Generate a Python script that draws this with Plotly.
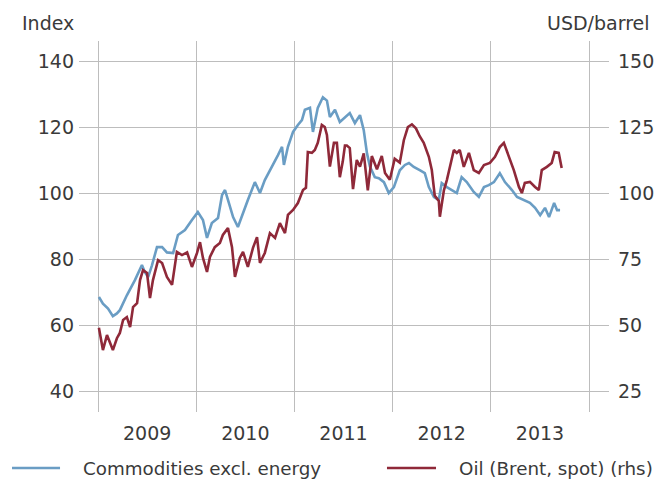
import plotly.graph_objects as go

# Commodities excl. energy (Index, lhs)
comm_dates = ["2009-01-04","2009-01-19","2009-02-07","2009-02-25","2009-03-12","2009-03-23","2009-04-18","2009-05-18",
    "2009-06-13","2009-06-24","2009-07-06","2009-07-20","2009-08-08","2009-08-27","2009-09-14","2009-10-07","2009-10-25",
    "2009-11-20","2009-12-16","2010-01-07","2010-01-26","2010-02-10","2010-02-28","2010-03-23","2010-04-07","2010-04-18",
    "2010-04-29","2010-05-18","2010-06-05","2010-06-20","2010-07-12","2010-08-07","2010-08-26","2010-09-13","2010-10-10",
    "2010-11-01","2010-11-16","2010-11-23","2010-12-08","2010-12-27","2011-01-14","2011-01-29","2011-02-09","2011-02-28",
    "2011-03-11","2011-03-29","2011-04-17","2011-05-02","2011-05-13","2011-06-01","2011-06-19","2011-07-08","2011-07-26",
    "2011-08-14","2011-09-02","2011-09-16","2011-09-28","2011-10-09","2011-10-27","2011-11-11","2011-11-30","2011-12-18",
    "2012-01-06","2012-01-28","2012-02-16","2012-03-02","2012-03-20","2012-04-11","2012-04-30","2012-05-15","2012-06-03",
    "2012-06-21","2012-07-02","2012-07-21","2012-08-08","2012-08-27","2012-09-14","2012-10-03","2012-10-29","2012-11-17",
    "2012-12-06","2012-12-24","2013-01-12","2013-02-03","2013-02-22","2013-03-20","2013-04-08","2013-05-04","2013-05-26",
    "2013-06-14","2013-07-03","2013-07-21","2013-08-05","2013-08-24","2013-09-04","2013-09-15"]
comm_values = [68.5,66.5,65,62.7,63.5,64.5,69,73.6,
    78.2,76,74.5,78,83.6,83.6,82,81.8,87.3,
    88.8,91.8,94.2,91.8,86.4,90.9,92.4,99.4,100.9,
    97.9,92.7,89.7,93.3,97.9,103.3,100,103.9,107.9,
    111.5,114,108.5,114,118.5,120.6,122.1,125.2,125.8,
    118.5,125.8,129,128,123,125.2,121.5,123,124.2,
    121.2,123.6,119,112,108,104.8,104.5,103.3,100,
    101.8,106.9,108.5,109.1,107.9,106.9,106,101.8,98.8,
    97.9,103,101.8,100.9,100,104.8,103.3,100.3,98.8,
    101.8,102.4,103.3,106,103.3,100.9,98.8,97.9,97,
    95.5,93.3,95.5,92.7,97,94.8,94.8]

# Oil (Brent, spot), USD/barrel (rhs)
oil_dates = ["2009-01-04","2009-01-19","2009-02-03","2009-02-14","2009-02-25","2009-03-12","2009-03-23","2009-04-04",
    "2009-04-18","2009-04-30","2009-05-11","2009-05-26","2009-06-06","2009-06-17","2009-07-02","2009-07-13","2009-07-24",
    "2009-08-12","2009-08-27","2009-09-14","2009-10-03","2009-10-21","2009-11-09","2009-11-28","2009-12-16","2010-01-04",
    "2010-01-15","2010-01-26","2010-02-10","2010-02-21","2010-03-11","2010-03-30","2010-04-10","2010-04-29","2010-05-14",
    "2010-05-25","2010-06-12","2010-06-24","2010-07-12","2010-07-31","2010-08-15","2010-08-26","2010-09-13","2010-10-02",
    "2010-10-21","2010-11-08","2010-11-27","2010-12-08","2010-12-27","2011-01-14","2011-02-02","2011-02-13","2011-02-20",
    "2011-03-07","2011-03-18","2011-03-29","2011-04-13","2011-04-24","2011-05-02","2011-05-13","2011-05-28","2011-06-08",
    "2011-06-19","2011-06-30","2011-07-08","2011-07-15","2011-07-26","2011-08-07","2011-08-21","2011-09-02","2011-09-16",
    "2011-10-01","2011-10-16","2011-11-04","2011-11-22","2011-12-04","2011-12-22","2012-01-09","2012-01-28","2012-02-12",
    "2012-02-27","2012-03-13","2012-03-28","2012-04-11","2012-04-26","2012-05-15","2012-05-26","2012-06-06","2012-06-21",
    "2012-06-25","2012-07-10","2012-07-21","2012-08-01","2012-08-16","2012-08-27","2012-09-07","2012-09-22","2012-10-11",
    "2012-10-29","2012-11-17","2012-12-06","2012-12-28","2013-01-16","2013-02-03","2013-02-18","2013-03-09","2013-03-27",
    "2013-04-15","2013-04-26","2013-05-07","2013-05-26","2013-06-14","2013-06-28","2013-07-09","2013-07-28","2013-08-15",
    "2013-08-26","2013-09-10","2013-09-21"]
oil_values = [49,40.5,46.2,43.2,40.5,45,47,51.9,
    53,49.2,56.8,58.3,67,70.8,69.7,60.2,67,
    74.6,73.5,68.2,65.2,77.7,76.5,77.5,72,77.3,
    81.4,75.4,70.1,75.8,79.5,81.1,84.1,86.7,79.5,
    68.2,75.4,77.7,72,79.2,83.3,73.5,77.3,84.8,
    83,88.6,84.8,91.7,93.6,96.2,101.1,102,115.5,
    115.2,116.3,119,125.8,125,122,110,119,119,
    106,112,118,118,117,101.5,112.5,110,115,
    101,114,109,114,107.6,105,113,111.5,120,
    125,126,124.5,121.5,119,113.7,108.7,99,97,
    91,101,104.9,109.9,116.3,115.2,116.3,109.9,115.2,
    108.7,107.6,110.6,111.4,113.7,117.4,119,113.7,108.7,
    102.3,100,103.8,104.2,102.3,101.1,108.7,109.9,111.4,
    115.5,115.2,109.5]

left_ticks = [40, 60, 80, 100, 120, 140]
right_ticks = [25, 50, 75, 100, 125, 150]

BLUE = "#6a9dc4"
RED = "#8f2939"
TXT = "#3a3a3a"
GRID = "#bdbdbd"
FONT = "DejaVu Sans"
FS = 19
FS_LEG = 18.3

fig = go.Figure()
fig.add_trace(go.Scatter(x=comm_dates, y=comm_values, mode="lines", name="Commodities excl. energy",
                         line=dict(color=BLUE, width=2.6), yaxis="y"))
fig.add_trace(go.Scatter(x=oil_dates, y=oil_values, mode="lines", name="Oil (Brent, spot) (rhs)",
                         line=dict(color=RED, width=2.6), yaxis="y2"))

fig.update_layout(
    width=657, height=479,
    margin=dict(l=79, r=48, t=41, b=67),
    paper_bgcolor="white", plot_bgcolor="white",
    showlegend=False,
    font=dict(family=FONT, size=FS, color=TXT),
    xaxis=dict(type="date", range=["2008-10-22", "2014-03-16"], tick0="2009-01-01", dtick="M12",
               ticklabelmode="period", tickformat="%Y",
               showgrid=True, gridcolor=GRID, gridwidth=1.3, zeroline=False, showline=False,
               ticks="", ticklabelstandoff=8, automargin=False),
    yaxis=dict(range=[33.64, 146.06], tickvals=left_ticks, showgrid=True, gridcolor=GRID, gridwidth=1.3,
               zeroline=False, showline=False, ticks="", ticklabelstandoff=4, automargin=False),
    yaxis2=dict(range=[17.05, 157.58], tickvals=right_ticks, overlaying="y", side="right",
                showgrid=False, zeroline=False, showline=False, ticks="", ticklabelstandoff=8,
                automargin=False),
)

# axis unit labels
fig.add_annotation(text="Index", xref="paper", yref="paper", x=-0.1113, y=1.0485,
                   xanchor="left", yanchor="middle", showarrow=False, font=dict(size=FS, color=TXT))
fig.add_annotation(text="USD/barrel", xref="paper", yref="paper", x=1.0811, y=1.0485,
                   xanchor="right", yanchor="middle", showarrow=False, font=dict(size=FS, color=TXT))

# legend
leg_y = -0.151
for x0, x1, tx, col, name in [(-0.1264, -0.0358, 0.0038, BLUE, "Commodities excl. energy"),
                              (0.5811, 0.6736, 0.7132, RED, "Oil (Brent, spot) (rhs)")]:
    fig.add_shape(type="line", xref="paper", yref="paper", x0=x0, x1=x1, y0=leg_y, y1=leg_y,
                  line=dict(color=col, width=2.6))
    fig.add_annotation(text=name, xref="paper", yref="paper", x=tx, y=leg_y, xanchor="left",
                       yanchor="middle", showarrow=False, font=dict(size=FS_LEG, color=TXT))

fig.write_html("out.html", config={"displayModeBar": False},
               post_script="document.body.style.margin='0';")
